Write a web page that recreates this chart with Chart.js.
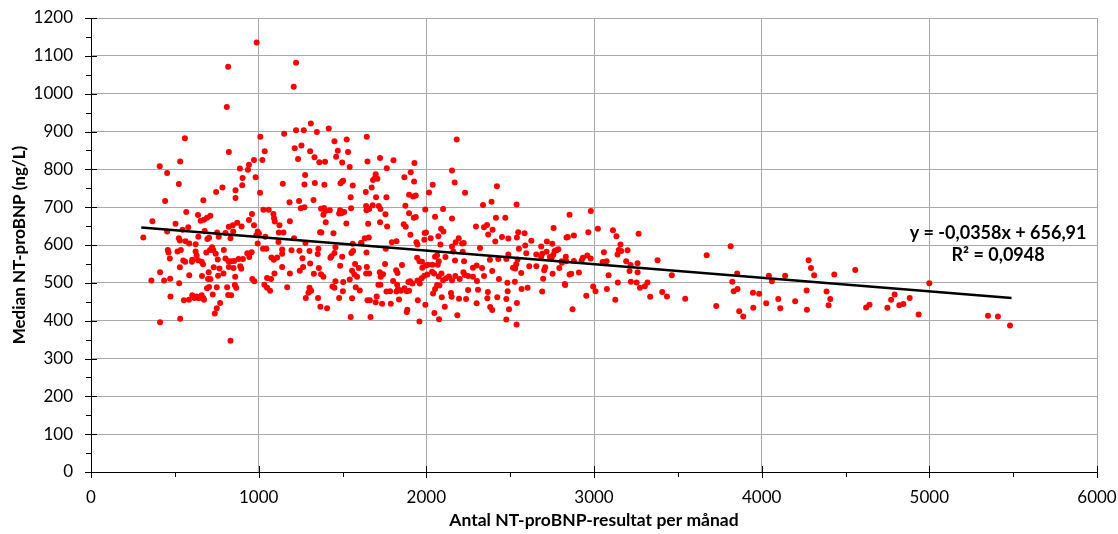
<!DOCTYPE html>
<html lang="sv">
<head>
<meta charset="utf-8">
<title>NT-proBNP</title>
<script src="https://cdn.jsdelivr.net/npm/chart.js@4.4.1/dist/chart.umd.min.js"></script>
<style>
  html, body { margin: 0; padding: 0; background: #fff; }
  #wrap { width: 1118px; height: 534px; position: relative; }
</style>
</head>
<body>
<div id="wrap"><canvas id="ntChart"></canvas></div>
<script>
// Antal resultat per månad (x) och median NT-proBNP (y)
const punkter = [
  [988,1135],[818,1071],[810,965],[560,882],[1010,886],[1152,894],[822,846],[1036,848],[410,808],[454,790],
  [532,821],[972,825],[1022,825],[942,812],[888,802],[936,799],[982,779],[904,777],[524,761],[1144,762],
  [902,758],[784,752],[862,745],[746,740],[1008,738],[862,724],[442,716],[670,718],[1184,713],[568,687],
  [638,679],[1028,693],[1060,693],[960,682],[712,677],[692,672],[674,667],[654,664],[1088,682],[1092,671],
  [1096,662],[366,663],[504,656],[872,659],[942,666],[972,652],[1124,652],[1186,663],[580,647],[546,640],
  [454,636],[678,637],[822,648],[846,652],[898,649],[848,636],[802,632],[752,633],[994,636],[1002,630],
  [986,626],[1040,622],[1120,633],[1148,633],[312,620],[524,618],[530,612],[564,610],[586,604],[624,602],
  [640,622],[704,619],[694,616],[762,622],[832,618],[994,604],[1026,590],[1046,590],[1118,608],[1140,588],
  [1140,577],[458,587],[462,580],[470,564],[516,583],[536,587],[624,583],[630,572],[638,560],[688,580],
  [710,587],[722,594],[730,586],[744,577],[756,562],[792,587],[802,564],[820,557],[836,557],[854,558],
  [880,563],[906,563],[932,578],[944,568],[958,581],[1076,567],[1090,561],[1110,567],[550,559],[562,556],
  [604,561],[602,556],[660,556],[668,549],[530,541],[732,541],[766,538],[822,542],[850,539],[890,544],
  [896,537],[702,528],[758,519],[790,525],[662,518],[586,520],[860,516],[412,528],[360,506],[436,506],
  [472,511],[526,499],[698,510],[712,510],[962,510],[974,504],[1050,513],[1074,510],[1094,525],[1140,542],
  [1186,525],[692,486],[704,489],[750,488],[812,488],[858,494],[866,487],[1034,495],[1050,487],[1068,479],
  [1170,488],[474,464],[554,454],[584,455],[604,467],[618,460],[630,464],[644,459],[660,467],[670,460],
  [674,455],[726,469],[818,468],[836,467],[770,447],[750,433],[738,419],[532,405],[412,396],[832,347],
  [1223,1082],[1209,1018],[1223,903],[1269,903],[1311,921],[1347,899],[1418,908],[1215,856],[1255,863],[1235,827],
  [1307,848],[1333,832],[1362,819],[1396,820],[1452,874],[1472,849],[1462,833],[1498,818],[1525,879],[1533,846],
  [1543,806],[1645,886],[1649,821],[1724,830],[1804,824],[1764,803],[1929,817],[2181,879],[1277,785],[1273,760],
  [1335,764],[1392,759],[1488,763],[1498,768],[1504,770],[1561,757],[1698,787],[1694,777],[1682,772],[1708,775],
  [1674,752],[1639,740],[1700,726],[1762,726],[1869,779],[1907,792],[1927,768],[1897,733],[1921,728],[1937,731],
  [2016,739],[2038,759],[2153,797],[2169,765],[2231,738],[1549,726],[1327,719],[1241,716],[1251,697],[1273,700],
  [1372,696],[1390,698],[1398,690],[1386,680],[1424,692],[1486,692],[1480,683],[1494,684],[1510,687],[1551,697],
  [1641,703],[1643,692],[1659,695],[1680,705],[1716,703],[1726,695],[1756,681],[1400,660],[1523,657],[1653,656],
  [1724,660],[1766,649],[1875,704],[1897,684],[1925,672],[1937,674],[1994,694],[2052,675],[2100,695],[2153,670],
  [2296,649],[1366,634],[1374,633],[1446,631],[1633,618],[1657,620],[1613,606],[1865,655],[1877,648],[1905,627],
  [1941,607],[1947,601],[1990,632],[1998,633],[1988,614],[2026,618],[2088,643],[2102,636],[2072,623],[2084,601],
  [2193,618],[2175,607],[2223,605],[2153,596],[1794,607],[1822,610],[1211,618],[1279,605],[1243,585],[1196,586],
  [1303,584],[1356,590],[1458,594],[1452,579],[1434,570],[1428,566],[1352,576],[1261,565],[1307,551],[1359,539],
  [1329,524],[1372,523],[1386,516],[1245,532],[1265,542],[1303,487],[1313,479],[1297,474],[1281,460],[1354,460],
  [1368,437],[1408,433],[1440,490],[1458,504],[1452,487],[1504,502],[1502,478],[1480,460],[1486,545],[1498,569],
  [1553,579],[1563,584],[1561,603],[1611,605],[1575,550],[1597,539],[1557,532],[1571,522],[1587,516],[1543,509],
  [1579,488],[1603,480],[1557,459],[1549,410],[1641,525],[1659,525],[1643,580],[1645,542],[1667,410],[1649,454],
  [1663,454],[1704,464],[1698,449],[1714,495],[1726,495],[1722,528],[1742,523],[1754,550],[1758,590],[1728,516],
  [1762,477],[1736,445],[1788,445],[1784,478],[1802,505],[1820,533],[1828,526],[1855,547],[1826,495],[1831,484],
  [1822,477],[1849,479],[1869,486],[1883,478],[1897,479],[1893,502],[1903,504],[1917,498],[1947,506],[1961,498],
  [1972,512],[1988,519],[2006,522],[1998,546],[2034,529],[2046,525],[2074,517],[2090,525],[2100,507],[2118,512],
  [2153,507],[2135,517],[2173,518],[2199,510],[2221,528],[2229,521],[2249,518],[2278,516],[2302,505],[2300,546],
  [2278,540],[2225,557],[2217,582],[2213,604],[2171,559],[2161,583],[2114,568],[2064,573],[2052,569],[2074,557],
  [2068,548],[2010,548],[2036,548],[1959,557],[1945,566],[1974,556],[1976,540],[2064,494],[2052,484],[2040,472],
  [2078,493],[2092,462],[2147,473],[2151,463],[2195,458],[2237,457],[2249,481],[2308,482],[2300,446],[2110,437],
  [2048,420],[2076,404],[2185,414],[1994,442],[1949,454],[1959,398],[1883,423],[1887,429],[1837,456],
  [2421,755],[2338,706],[2389,714],[2538,707],[2415,672],[2471,672],[2344,647],[2362,653],[2395,640],[2369,628],
  [2411,609],[2451,621],[2489,617],[2540,620],[2548,634],[2586,631],[2626,611],[2320,592],[2552,590],[2590,599],
  [2489,575],[2596,578],[2379,561],[2429,563],[2477,563],[2544,562],[2332,539],[2393,531],[2344,518],[2433,510],
  [2517,540],[2536,549],[2530,538],[2566,526],[2614,544],[2656,544],[2656,575],[2685,568],[2685,596],[2691,577],
  [2719,609],[2751,603],[2759,645],[2854,680],[2836,620],[2844,621],[2880,625],[2717,582],[2737,568],[2765,584],
  [2777,586],[2787,589],[2757,574],[2747,566],[2709,541],[2703,533],[2793,539],[2807,557],[2809,553],[2832,569],
  [2834,557],[2880,558],[2926,559],[2934,566],[2960,572],[2980,564],[2966,634],[2981,690],[3023,643],[2753,524],
  [2697,511],[2854,522],[2864,524],[2910,527],[2826,497],[2828,494],[2691,477],[2604,487],[2568,484],[2528,503],
  [2483,500],[2485,478],[2477,457],[2423,462],[2367,476],[2364,459],[2381,436],[2393,428],[2493,430],[2540,447],
  [2477,403],[2538,390],[2872,430],[2954,466],[2995,490],[3009,478],[3051,555],[3059,581],[3075,557],[3087,520],
  [3077,484],[3113,639],[3134,623],[3158,601],[3148,587],[3162,584],[3140,575],[3200,586],[3266,630],[3192,557],
  [3218,547],[3212,531],[3260,552],[3260,528],[3220,503],[3254,501],[3142,501],[3127,455],[3274,487],[3303,491],
  [3319,501],[3335,463],[3379,560],[3407,476],[3435,464],[3464,520],
  [3815,597],[3672,573],[3544,458],[3729,439],[3825,503],[3854,525],[3833,478],[3856,484],[3866,425],[3890,411],
  [3948,474],[3950,434],[3985,471],[4027,446],[4043,519],[4061,504],[4099,457],[4111,433],[4140,519],[4200,451],
  [4268,480],[4270,429],[4280,560],[4294,539],[4313,520],[4387,477],[4409,457],[4399,441],[4433,522],[4558,534],
  [4623,435],[4643,442],[4750,434],
  [4772,455],[4793,469],[4821,441],[4845,444],[4883,460],[4936,416],[5000,499],[5350,413],[5409,411],[5481,387]
];

// Linjär trendlinje, ändpunkter
const trendX = [300, 5490];
const trendY = [646, 460];
const trendText = ["y = -0,0358x + 656,91", "R\u00B2 = 0,0948"];
const textX = 5410;
const textY = [630, 572];

const xTitel = "Antal NT-proBNP-resultat per månad";
const yTitel = "Median NT-proBNP (ng/L)";

const fontFamily = "Lato, 'Liberation Sans', sans-serif";

// Små tickstreck på axlarna (Excel-stil) samt ekvationstext
const axelStreck = {
  id: "axelStreck",
  afterDraw(chart) {
    const { ctx, chartArea: a, scales: { x, y } } = chart;
    ctx.save();
    ctx.strokeStyle = "#000";
    ctx.lineWidth = 1;
    ctx.beginPath();
    for (let v = 0; v <= 1200; v += 50) {
      const py = Math.round(y.getPixelForValue(v)) + 0.5;
      const major = v % 100 === 0;
      ctx.moveTo(a.left - (major ? 6 : 5), py);
      ctx.lineTo(a.left + (major ? 6 : 0), py);
    }
    for (let v = 0; v <= 6000; v += 500) {
      const px = Math.round(x.getPixelForValue(v)) + 0.5;
      const major = v % 1000 === 0;
      ctx.moveTo(px, a.bottom - (major ? 6 : 0));
      ctx.lineTo(px, a.bottom + (major ? 6 : 5));
    }
    ctx.stroke();

    ctx.fillStyle = "#000";
    ctx.font = "bold 18px " + fontFamily;
    ctx.textAlign = "center";
    ctx.textBaseline = "middle";
    trendText.forEach((t, i) => {
      ctx.fillText(t, x.getPixelForValue(textX), y.getPixelForValue(textY[i]));
    });
    ctx.restore();
  },
};

const ctx = document.getElementById("ntChart").getContext("2d");

const ntChart = new Chart(ctx, {
  type: "scatter",
  data: {
    datasets: [
      {
        type: "line",
        label: "Linjär",
        data: trendX.map((v, i) => ({ x: v, y: trendY[i] })),
        borderColor: "#000000",
        borderWidth: 2.5,
        pointRadius: 0,
        fill: false,
        tension: 0,
      },
      {
        label: "Median",
        data: punkter.map((p) => ({ x: p[0], y: p[1] })),
        backgroundColor: "#ff0000",
        borderColor: "#ff0000",
        borderWidth: 0,
        pointRadius: 3,
      },
    ],
  },
  options: {
    responsive: true,
    maintainAspectRatio: false,
    animation: false,
    layout: {
      padding: { left: 0, top: 18, right: 21, bottom: 0 },
    },
    plugins: {
      legend: { display: false },
      tooltip: { enabled: false },
    },
    scales: {
      x: {
        type: "linear",
        min: 0,
        max: 6000,
        afterFit: (s) => {
          s.height = 62;
          s.paddingLeft = 0;
          s.paddingRight = 0;
        },
        border: { color: "#000000", width: 1 },
        grid: { color: "#a9a9a9", drawTicks: false },
        ticks: {
          stepSize: 1000,
          padding: 15,
          color: "#000",
          font: { size: 17, family: fontFamily },
          callback: (v) => String(v),
        },
        title: {
          display: true,
          text: xTitel,
          color: "#000",
          padding: { top: 0, bottom: 3 },
          font: { size: 17.5, weight: "bold", family: fontFamily },
        },
      },
      y: {
        min: 0,
        max: 1200,
        afterFit: (s) => {
          s.width = 91;
          s.paddingTop = 0;
          s.paddingBottom = 0;
        },
        border: { color: "#000000", width: 1 },
        grid: { color: "#a9a9a9", drawTicks: false },
        ticks: {
          stepSize: 100,
          padding: 18,
          color: "#000",
          font: { size: 17, family: fontFamily },
          callback: (v) => String(v),
        },
        title: {
          display: true,
          text: yTitel,
          color: "#000",
          padding: { top: 9, bottom: 0 },
          font: { size: 17, weight: "bold", family: fontFamily },
        },
      },
    },
  },
  plugins: [axelStreck],
});
</script>
</body>
</html>
